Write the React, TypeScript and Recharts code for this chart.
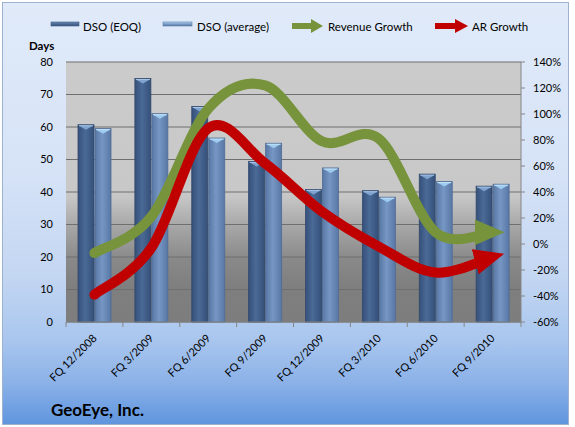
import React from "react";
import { ComposedChart, Bar, Line, XAxis, YAxis, CartesianGrid } from "recharts";

const categories = ["FQ 12/2008", "FQ 3/2009", "FQ 6/2009", "FQ 9/2009", "FQ 12/2009", "FQ 3/2010", "FQ 6/2010", "FQ 9/2010"];
const dsoEoq = [60.7, 74.9, 66.3, 49.4, 40.8, 40.4, 45.5, 41.8];
const dsoAvg = [59.5, 64.1, 56.6, 55.0, 47.4, 38.4, 43.2, 42.4];
const revenueGrowth = [-7, 21, 104, 122, 79, 81, 9, 9];
const arGrowth = [-39, -3, 89, 62, 25, -2, -22, -10];
const leftTicks = [0, 10, 20, 30, 40, 50, 60, 70, 80];
const rightTicks = [-60, -40, -20, 0, 20, 40, 60, 80, 100, 120, 140];

const data = categories.map((c, i) => ({
  name: c,
  eoq: dsoEoq[i],
  avg: dsoAvg[i],
  rev: revenueGrowth[i],
  ar: arGrowth[i],
}));

const FONT = "Lato, 'Open Sans', sans-serif";

// Excel-like smoothing (Catmull-Rom converted to cubic Bezier)
function excelCurve(context: any) {
  let pts: number[][] = [];
  return {
    areaStart() {},
    areaEnd() {},
    lineStart() {
      pts = [];
    },
    point(x: number, y: number) {
      pts.push([+x, +y]);
    },
    lineEnd() {
      const n = pts.length;
      if (!n) return;
      context.moveTo(pts[0][0], pts[0][1]);
      for (let i = 0; i < n - 1; i++) {
        const p0 = pts[i - 1] || pts[i];
        const p1 = pts[i];
        const p2 = pts[i + 1];
        const p3 = pts[i + 2] || p2;
        context.bezierCurveTo(
          p1[0] + (p2[0] - p0[0]) / 6,
          p1[1] + (p2[1] - p0[1]) / 6,
          p2[0] - (p3[0] - p1[0]) / 6,
          p2[1] - (p3[1] - p1[1]) / 6,
          p2[0],
          p2[1]
        );
      }
    },
  };
}

const makeBarShape = (gradId: string, capColor: string, capTop: string, edge: string) => (props: any) => {
  const { x, y, width, height } = props;
  if (!height || height <= 0) return <g />;
  return (
    <g>
      <rect x={x} y={y} width={width} height={height} fill={`url(#${gradId})`} stroke={edge} strokeWidth={0.8} />
      <polygon
        points={`${x + 1},${y + 1} ${x + width - 1},${y + 1} ${x + width / 2},${y + 5}`}
        fill={capColor}
      />
      <line x1={x + 1} y1={y + 1} x2={x + width - 1} y2={y + 1} stroke={capTop} strokeWidth={1} />
    </g>
  );
};

const DarkBar = makeBarShape("gDark", "#7fa3cf", "#a9c7ea", "#34496b");
const LightBar = makeBarShape("gLight", "#9ccbef", "#c6e6fb", "#4f6d96");

const startCap = (color: string) => (p: any) => {
  if (p.index === 0 && p.cx != null && p.cy != null) {
    return <circle key={`cap-${color}`} cx={p.cx} cy={p.cy} r={5} fill={color} />;
  }
  return <g key={`nocap-${color}-${p.index}`} />;
};

const XTick = (props: any) => {
  const { x, y, payload, index } = props;
  const off = payload.offset || 0;
  return (
    <g>
      <line x1={x - off} y1={y} x2={x - off} y2={y + 5} stroke="#868686" />
      {index === categories.length - 1 && (
        <line x1={x + off} y1={y} x2={x + off} y2={y + 5} stroke="#868686" />
      )}
      <text
        x={x + 3}
        y={y + 17}
        textAnchor="end"
        transform={`rotate(-45, ${x + 3}, ${y + 17})`}
        fontFamily={FONT}
        fontSize={11}
        fill="#000"
      >
        {payload.value}
      </text>
    </g>
  );
};

const legendText = { fontFamily: FONT, fontSize: 11.5, fill: "#000" } as any;

export default function App() {
  return (
    <div
      style={{
        position: "absolute",
        left: 0,
        top: 0,
        width: 575,
        height: 427,
        background: "#ffffff",
      }}
    >
      <div
        style={{
          position: "absolute",
          left: 2,
          top: 2,
          width: 565,
          height: 421,
          border: "1px solid #9db2cf",
          background:
            "linear-gradient(to bottom, #e0eaf9 0%, #d6e3f7 40%, #c3d6f2 65%, #a9c6ee 80%, #8cb2e8 90%, #5f95de 100%)",
        }}
      />
      <div style={{ position: "absolute", left: 0, top: 0 }}>
        <ComposedChart
          width={575}
          height={427}
          data={data}
          margin={{ top: 62, right: 0, bottom: 0, left: 0 }}
          barGap={1}
          barSize={16}
        >
          <defs>
            <linearGradient id="plotBg" x1="0" y1="0" x2="0" y2="1">
              <stop offset="0%" stopColor="#cbcbcb" />
              <stop offset="49%" stopColor="#c8c8c8" />
              <stop offset="52%" stopColor="#c6c6c6" />
              <stop offset="63%" stopColor="#a7a7a7" />
              <stop offset="76%" stopColor="#898989" />
              <stop offset="86%" stopColor="#7f7f7f" />
              <stop offset="100%" stopColor="#7d7d7d" />
            </linearGradient>
            <linearGradient id="gDark" x1="0" y1="0" x2="1" y2="0">
              <stop offset="0%" stopColor="#34507a" />
              <stop offset="45%" stopColor="#4b6a96" />
              <stop offset="100%" stopColor="#34507a" />
            </linearGradient>
            <linearGradient id="gLight" x1="0" y1="0" x2="1" y2="0">
              <stop offset="0%" stopColor="#5877a5" />
              <stop offset="45%" stopColor="#7696c3" />
              <stop offset="100%" stopColor="#5877a5" />
            </linearGradient>
            <marker
              id="arrowGreen"
              markerUnits="userSpaceOnUse"
              markerWidth={30}
              markerHeight={26}
              viewBox="0 0 30 26"
              refX={18}
              refY={13}
              orient="auto"
            >
              <path d="M0,0 L30,13 L0,26 Z" fill="#77933c" />
            </marker>
            <marker
              id="arrowRed"
              markerUnits="userSpaceOnUse"
              markerWidth={30}
              markerHeight={26}
              viewBox="0 0 30 26"
              refX={18}
              refY={13}
              orient="auto"
            >
              <path d="M0,0 L30,13 L0,26 Z" fill="#c00000" />
            </marker>
          </defs>
          <CartesianGrid
            yAxisId="left"
            vertical={false}
            stroke="#6f6f6f"
            fill="url(#plotBg)"
            fillOpacity={1}
          />
          <XAxis
            dataKey="name"
            height={105}
            interval={0}
            tickLine={false}
            tickSize={0}
            tickMargin={0}
            axisLine={{ stroke: "#868686" }}
            tick={<XTick />}
          />
          <YAxis
            yAxisId="left"
            orientation="left"
            width={66}
            domain={[0, 80]}
            ticks={leftTicks}
            interval={0}
            axisLine={false}
            tickLine={false}
            tickSize={0}
            tickMargin={13}
            tick={{ fontFamily: FONT, fontSize: 11, fill: "#000" }}
          />
          <YAxis
            yAxisId="right"
            orientation="right"
            width={54}
            domain={[-60, 140]}
            ticks={rightTicks}
            interval={0}
            axisLine={{ stroke: "#868686" }}
            tickLine={{ stroke: "#868686" }}
            tickSize={4}
            tickMargin={8}
            tickFormatter={(v: number) => `${v}%`}
            tick={{ fontFamily: FONT, fontSize: 11, fill: "#000", textAnchor: "start" }}
          />
          <Bar yAxisId="left" dataKey="eoq" name="DSO (EOQ)" shape={DarkBar} isAnimationActive={false} />
          <Bar yAxisId="left" dataKey="avg" name="DSO (average)" shape={LightBar} isAnimationActive={false} />
          <Line
            yAxisId="right"
            dataKey="rev"
            name="Revenue Growth"
            type={excelCurve as any}
            stroke="#77933c"
            strokeWidth={10}
            strokeLinecap="butt"
            strokeLinejoin="round"
            dot={startCap("#77933c")}
            activeDot={false}
            markerEnd="url(#arrowGreen)"
            isAnimationActive={false}
          />
          <Line
            yAxisId="right"
            dataKey="ar"
            name="AR Growth"
            type={excelCurve as any}
            stroke="#c00000"
            strokeWidth={10}
            strokeLinecap="butt"
            strokeLinejoin="round"
            dot={startCap("#c00000")}
            activeDot={false}
            markerEnd="url(#arrowRed)"
            isAnimationActive={false}
          />
        </ComposedChart>
      </div>
      <svg
        width={575}
        height={427}
        style={{ position: "absolute", left: 0, top: 0, pointerEvents: "none" }}
      >
        <defs>
          <linearGradient id="lgDark" x1="0" y1="0" x2="0" y2="1">
            <stop offset="0%" stopColor="#6d8cb8" />
            <stop offset="50%" stopColor="#4a6893" />
            <stop offset="100%" stopColor="#3a5680" />
          </linearGradient>
          <linearGradient id="lgLight" x1="0" y1="0" x2="0" y2="1">
            <stop offset="0%" stopColor="#b8dcf6" />
            <stop offset="50%" stopColor="#7898c6" />
            <stop offset="100%" stopColor="#5d7daa" />
          </linearGradient>
        </defs>
        {/* Legend */}
        <rect x={51} y={22} width={28} height={4} fill="url(#lgDark)" stroke="#3e5a83" strokeWidth={0.6} />
        <text x={83} y={30.5} {...legendText}>DSO (EOQ)</text>
        <rect x={163} y={22} width={29} height={4} fill="url(#lgLight)" stroke="#5b7aa6" strokeWidth={0.6} />
        <text x={197} y={30.5} {...legendText}>DSO (average)</text>
        <path d="M292,23 L311,23 L311,19 L323,26 L311,33 L311,29 L292,29 Z" fill="#77933c" />
        <text x={328} y={30.5} {...legendText}>Revenue Growth</text>
        <path d="M435,23 L455,23 L455,19 L468,26 L455,33 L455,29 L435,29 Z" fill="#c00000" />
        <text x={472} y={30.5} {...legendText}>AR Growth</text>
        {/* Axis title */}
        <text x={29} y={50} fontFamily={FONT} fontSize={11.5} fontWeight="bold" fill="#000">
          Days
        </text>
        {/* Chart title */}
        <text x={51} y={416} fontFamily={FONT} fontSize={17} fontWeight="bold" fill="#000">
          GeoEye, Inc.
        </text>
      </svg>
    </div>
  );
}
